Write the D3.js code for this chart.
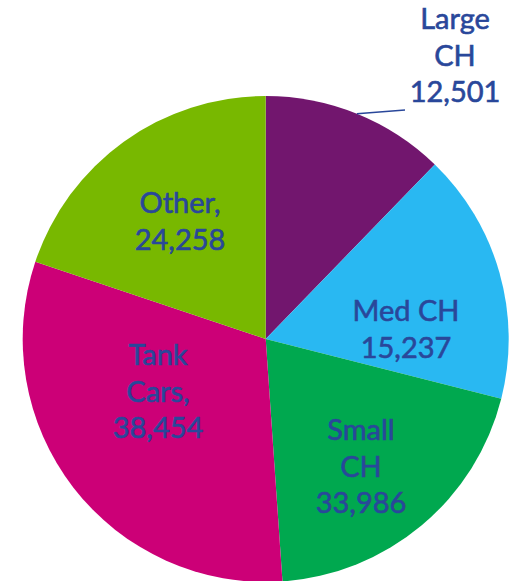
<!DOCTYPE html>
<html>
<head>
<meta charset="utf-8">
<script src="https://cdn.jsdelivr.net/npm/d3@7"></script>
<style>
  body { margin: 0; background: #fff; }
  svg text { font-family: Lato, "Open Sans", sans-serif; }
</style>
</head>
<body>
<div id="vis"></div>
<script>
// categories, in clockwise order from 12 o'clock
var categories = ['Large CH', 'Med CH', 'Small CH', 'Tank Cars', 'Other'];
// values printed in the labels
var labelValues = [12501, 15237, 33986, 38454, 24258];
// slice shares (%) as drawn in the picture
var sliceShares = [12.25, 16.7, 19.95, 31.25, 19.85];
var nameLines = [['Large', 'CH'], ['Med CH'], ['Small', 'CH'], ['Tank', 'Cars,'], ['Other,']];
var colors = ['#72166e', '#29b8f2', '#00a84f', '#cc0077', '#78b800'];

var width = 514;
var height = 581;
var cx = 265.7;
var cy = 339;
var radius = 243;
var lineHeight = 36.5;
var textColor = '#29479a';

// label anchors: centre x and first baseline y
var labelPos = [
  { x: 455, y: 29 },
  { x: 406, y: 321 },
  { x: 361, y: 440 },
  { x: 158, y: 365 },
  { x: 180, y: 213 }
];

var data = categories.map(function (c, i) {
  return { name: c, value: labelValues[i], share: sliceShares[i], lines: nameLines[i] };
});

var svg = d3.select('#vis').append('svg')
  .attr('width', width)
  .attr('height', height);

var g = svg.append('g').attr('transform', 'translate(' + cx + ',' + cy + ')');

var pie = d3.pie().sort(null).value(function (d) { return d.share; });
var arc = d3.arc().innerRadius(0).outerRadius(radius);
var arcs = pie(data);

g.selectAll('.slice')
  .data(arcs)
  .enter()
  .append('path')
  .attr('class', 'slice')
  .attr('d', arc)
  .attr('fill', function (d, i) { return colors[i]; });

// leader line for the outside label (Large CH)
var a0 = arcs[0];
var mid = (a0.startAngle + a0.endAngle) / 2;
svg.append('line')
  .attr('x1', cx + Math.sin(mid) * radius)
  .attr('y1', cy - Math.cos(mid) * radius)
  .attr('x2', 405)
  .attr('y2', 110)
  .attr('stroke', textColor)
  .attr('stroke-width', 1.5);

var fmt = d3.format(',');

var labels = svg.selectAll('.label')
  .data(data)
  .enter()
  .append('text')
  .attr('class', 'label')
  .attr('text-anchor', 'middle')
  .attr('font-size', 29)
  .attr('fill', textColor)
  .attr('stroke', textColor)
  .attr('stroke-width', 0.6);

labels.each(function (d, i) {
  var t = d3.select(this);
  var lines = d.lines.concat([fmt(d.value)]);
  lines.forEach(function (line, j) {
    t.append('tspan')
      .attr('x', labelPos[i].x)
      .attr('y', labelPos[i].y + j * lineHeight)
      .text(line);
  });
});
</script>
</body>
</html>
